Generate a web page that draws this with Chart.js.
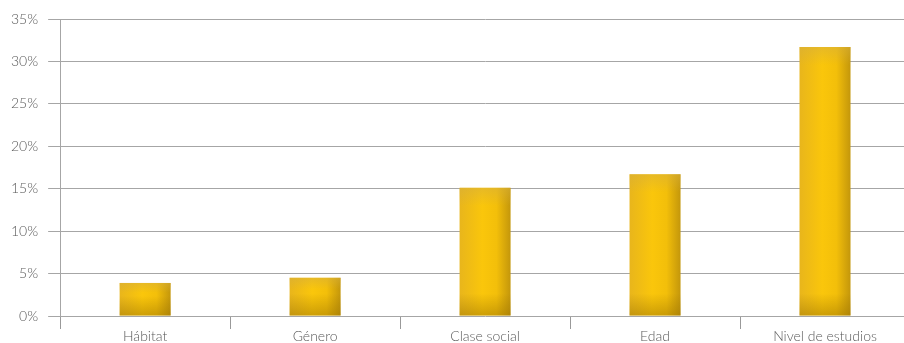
<!DOCTYPE html>
<html>
<head>
<meta charset="utf-8">
<script src="https://cdn.jsdelivr.net/npm/chart.js@4/dist/chart.umd.min.js"></script>
<style>
    html, body { margin: 0; padding: 0; background: #fff; overflow: hidden; }
    #wrap { width: 912px; height: 343px; position: relative; }
</style>
</head>
<body>
<div id="wrap"><canvas id="chart"></canvas></div>
<script>
const categories = ['Hábitat', 'Género', 'Clase social', 'Edad', 'Nivel de estudios'];
const values = [3.9, 4.5, 15.1, 16.7, 31.7];
const yMax = 35;
const yStep = 5;

// horizontal shading per bar, like the original "3D" bars
function barFill(context) {
    const chart = context.chart;
    const xs = chart.scales.x;
    if (!xs || context.dataIndex === undefined) return '#F6C00E';
    const cx = xs.getPixelForValue(context.dataIndex);
    if (!isFinite(cx)) return '#F6C00E';
    const half = 26;
    const g = chart.ctx.createLinearGradient(cx - half, 0, cx + half, 0);
    g.addColorStop(0, '#E8B51C');
    g.addColorStop(0.45, '#FAC60B');
    g.addColorStop(0.72, '#F3BF0A');
    g.addColorStop(1, '#C2950B');
    return g;
}

// darker bottom edge and duller top on each bar
const barShade = {
    id: 'barShade',
    afterDatasetsDraw(chart) {
        const c = chart.ctx;
        chart.getDatasetMeta(0).data.forEach(bar => {
            const left = bar.x - bar.width / 2;
            const h = bar.base - bar.y;
            const sh = Math.min(22, h * 0.6);
            const g = c.createLinearGradient(0, bar.base - sh, 0, bar.base);
            g.addColorStop(0, 'rgba(150,110,0,0)');
            g.addColorStop(1, 'rgba(150,110,0,0.45)');
            c.save();
            c.fillStyle = g;
            c.fillRect(left, bar.base - sh, bar.width, sh);
            const th = Math.min(18, h * 0.3);
            const g2 = c.createLinearGradient(0, bar.y, 0, bar.y + th);
            g2.addColorStop(0, 'rgba(215,175,60,0.55)');
            g2.addColorStop(1, 'rgba(215,175,60,0)');
            c.fillStyle = g2;
            c.fillRect(left, bar.y, bar.width, th);
            c.restore();
        });
    }
};

const tickFont = { family: 'Lato', size: 14, weight: '300', lineHeight: 1 };

const ctx = document.getElementById('chart').getContext('2d');
const chart = new Chart(ctx, {
    type: 'bar',
    data: {
        labels: categories,
        datasets: [{
            data: values,
            backgroundColor: barFill,
            borderWidth: 0,
            barPercentage: 0.3,
            categoryPercentage: 1
        }]
    },
    options: {
        responsive: true,
        maintainAspectRatio: false,
        animation: false,
        layout: { padding: { top: 19, left: 1, right: 2, bottom: 0 } },
        plugins: { legend: { display: false }, tooltip: { enabled: false } },
        scales: {
            x: {
                grid: {
                    display: true,
                    offset: true,
                    drawOnChartArea: false,
                    drawTicks: true,
                    tickLength: 13,
                    color: '#999'
                },
                border: { display: false },
                ticks: {
                    color: '#5a5a5a',
                    padding: 0,
                    font: tickFont
                }
            },
            y: {
                min: 0,
                max: yMax,
                ticks: {
                    stepSize: yStep,
                    color: '#5a5a5a',
                    padding: 10,
                    font: tickFont,
                    callback: v => v + '%'
                },
                grid: {
                    color: '#a6a6a6',
                    lineWidth: 1,
                    tickLength: 12
                },
                border: { display: true, color: '#a6a6a6' }
            }
        }
    },
    plugins: [barShade]
});
</script>
</body>
</html>
